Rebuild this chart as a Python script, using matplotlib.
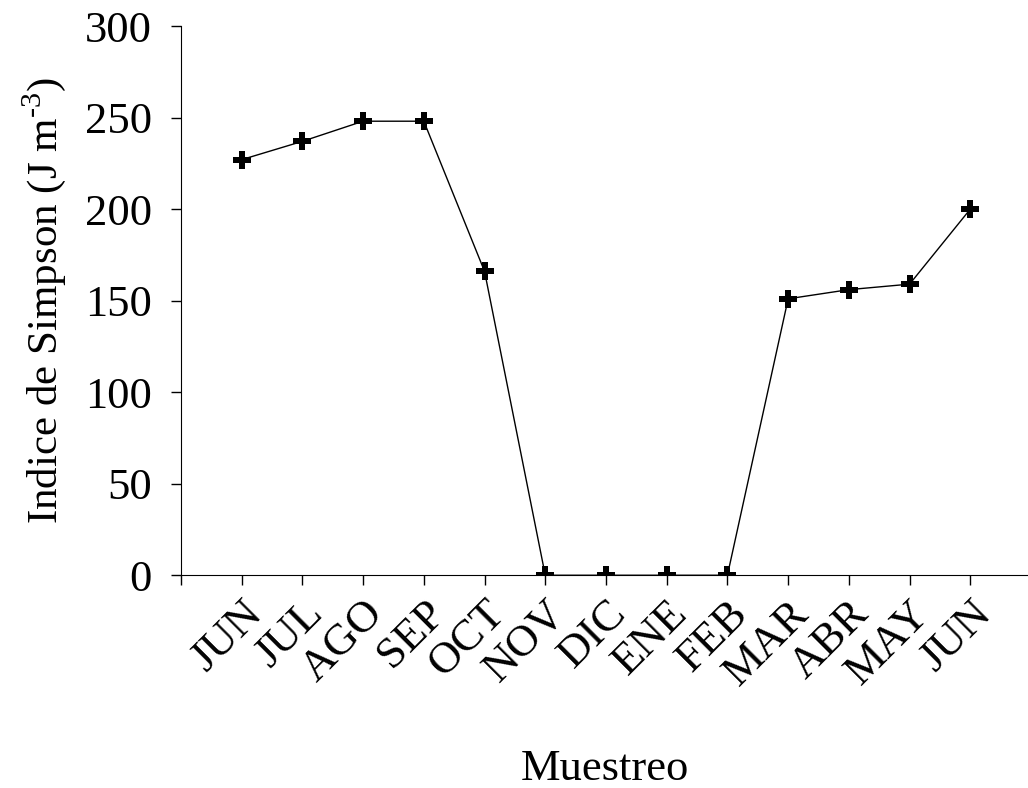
import numpy as np
import matplotlib.pyplot as plt

# データ
meses = ['JUN', 'JUL', 'AGO', 'SEP', 'OCT', 'NOV', 'DIC', 'ENE', 'FEB',
         'MAR', 'ABR', 'MAY', 'JUN']
simpson = [227, 237, 248, 248, 166, 0, 0, 0, 0, 151, 156, 159, 200]

plt.rcParams['font.family'] = ['Liberation Serif', 'DejaVu Serif']
plt.rcParams['mathtext.fontset'] = 'custom'
plt.rcParams['mathtext.rm'] = 'Liberation Serif'

fig = plt.figure(figsize=(10.28, 7.88), dpi=100)
ax = fig.add_axes([0.176, 0.27, 0.824, 0.697])

x = np.arange(1, len(meses) + 1)
ax.plot(x, simpson, color='black', linewidth=1, marker='P',
        markersize=13, markeredgewidth=0)

ax.set_xlim(0, 13.95)
ax.set_ylim(0, 300)
ax.set_yticks(np.arange(0, 301, 50))
ax.set_xticks(np.arange(0, 14))
ax.set_xticklabels([''] + meses)
for lbl in ax.get_xticklabels():
    lbl.set_rotation(45)
    lbl.set_ha('right')
    lbl.set_va('top')
    lbl.set_rotation_mode('anchor')

ax.tick_params(axis='both', direction='out', length=7, width=1, labelsize=32)
ax.tick_params(axis='y', pad=14)
ax.tick_params(axis='x', pad=6)
ax.spines['top'].set_visible(False)
ax.spines['right'].set_visible(False)

ax.set_ylabel('Indice de Simpson (J m$^{\\text{-3}}$)', fontsize=31,
              labelpad=12)
ax.set_xlabel('Muestreo', fontsize=32, labelpad=40)

fig.savefig('out.png', dpi=100)
